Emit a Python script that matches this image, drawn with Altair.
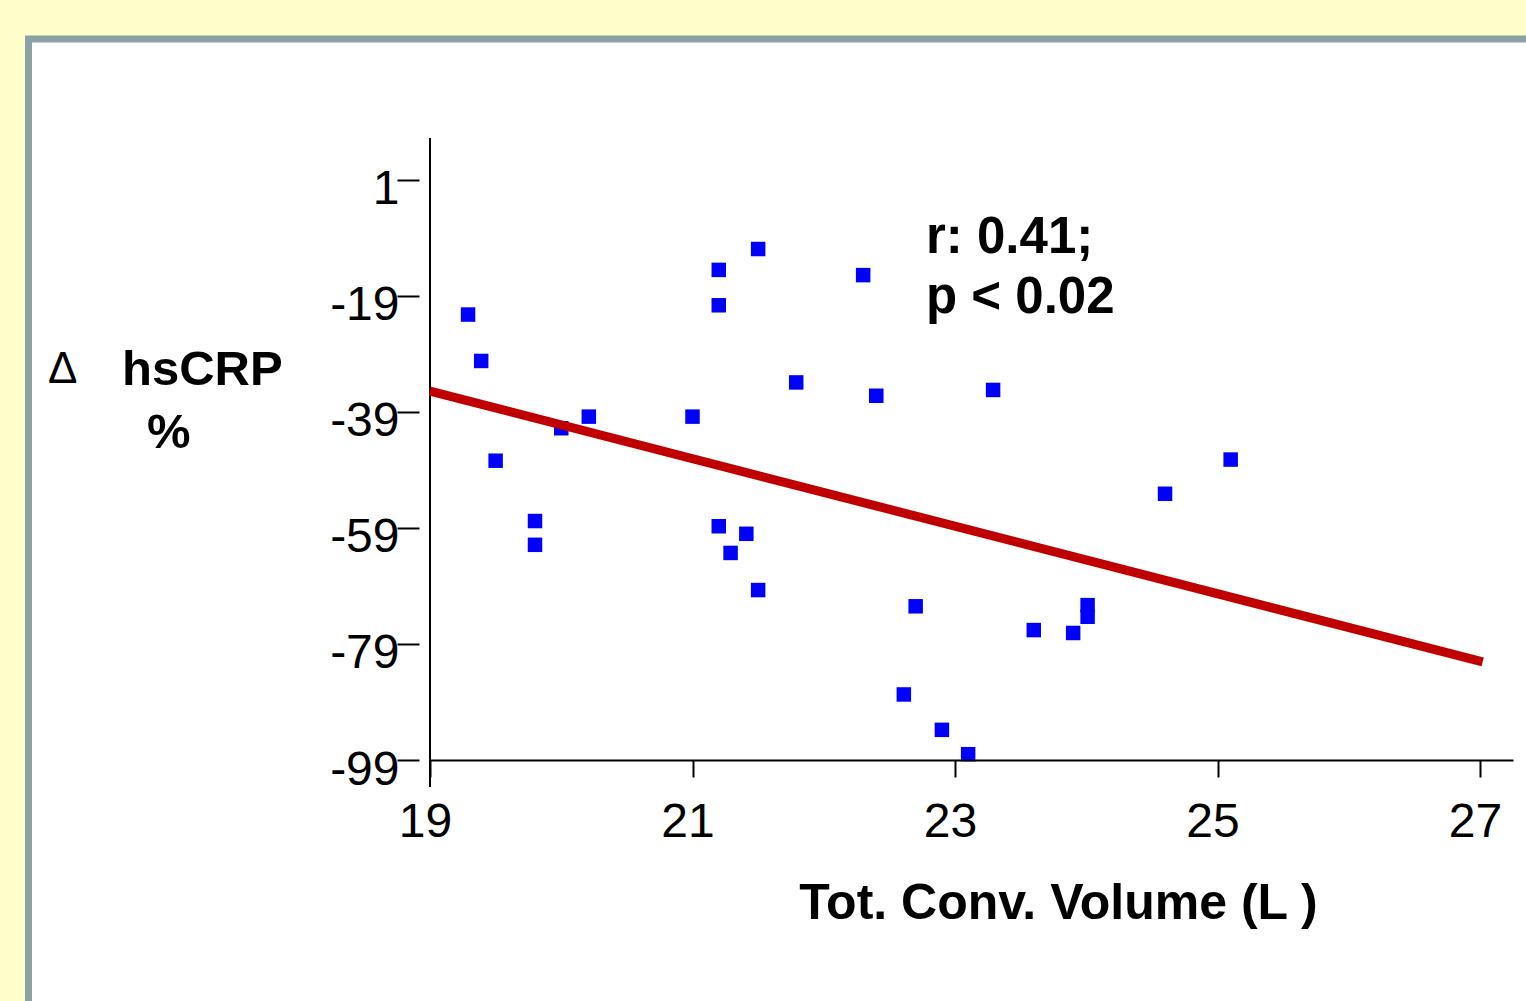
import altair as alt
import pandas as pd

# ---- data ----
x_vol = [19.29, 19.39, 19.50, 19.80, 19.80, 20.00, 20.21, 21.00, 21.20, 21.20,
         21.50, 21.79, 21.20, 21.41, 21.29, 21.50, 22.30, 22.40, 22.70, 22.61,
         22.90, 23.10, 23.29, 23.60, 23.90, 24.01, 24.01, 24.60, 25.10]
y_crp = [-22.2, -30.2, -47.4, -57.8, -61.9, -41.8, -39.8, -39.8, -14.5, -20.6,
         -10.9, -33.9, -58.7, -60.0, -63.3, -69.7, -15.4, -36.2, -72.5, -87.7,
         -93.8, -98.0, -35.2, -76.6, -77.1, -72.3, -74.3, -53.1, -47.2]

fit_x = [19.0, 27.02]
fit_y = [-35.4, -82.1]

x_ticks = [19, 21, 23, 25, 27]
y_ticks = [1, -19, -39, -59, -79, -99]

x_title = "Tot. Conv. Volume (L )"
y_title_symbol = "Δ"
y_title_main = "hsCRP"
y_title_unit = "%"
annotation = ["r: 0.41;", "p < 0.02"]

# ---- build ----
FONT = "Liberation Sans"
W, H = 1083, 622

pts = pd.DataFrame({"vol": x_vol, "crp": y_crp})
fit = pd.DataFrame({"vol": fit_x, "crp": fit_y})
one = alt.Data(values=[{"a": 1}])

xs = alt.Scale(domain=[19, 27.251], nice=False, zero=False)
ys = alt.Scale(domain=[-99, 8.24], nice=False, zero=False)

x_axis = alt.Axis(
    values=x_ticks, grid=False, domainColor="black", domainWidth=2,
    tickColor="black", tickSize=17, tickWidth=2,
    labelExpr="'' + datum.value",
    labelFont=FONT, labelFontSize=48, labelColor="black", labelPadding=21,
    labelOffset=-5, labelFlush=False, labelOverlap=False,
    title=x_title, titleFont=FONT, titleFontSize=50, titleFontWeight="bold",
    titleColor="black", titleX=628, titleY=158, titleAlign="center",
    titleBaseline="alphabetic", zindex=1,
)
y_axis = alt.Axis(
    values=y_ticks, grid=False, domain=False, offset=11,
    tickColor="black", tickSize=22, tickWidth=2,
    labelExpr="'' + datum.value",
    labelFont=FONT, labelFontSize=48, labelColor="black", labelPadding=-2,
    labelOffset=10, labelOverlap=False, labelFlush=False,
    title=None, zindex=1,
)

frame = alt.Chart(one).mark_rect(fill="white", stroke="#8CA1A5", strokeWidth=7).encode(
    x=alt.value(-401.5), y=alt.value(-99), x2=alt.value(1300), y2=alt.value(1100)
)

yline = alt.Chart(one).mark_rule(color="black", strokeWidth=2).encode(
    x=alt.value(0), y=alt.value(0), y2=alt.value(649)
)

points = alt.Chart(pts).mark_point(
    shape="square", filled=True, size=210, color="#0000FF", opacity=1, strokeWidth=0
).encode(
    x=alt.X("vol:Q", scale=xs, axis=x_axis),
    y=alt.Y("crp:Q", scale=ys, axis=y_axis),
)

line = alt.Chart(fit).mark_line(color="#C00000", strokeWidth=9, strokeCap="butt").encode(
    x=alt.X("vol:Q", scale=xs), y=alt.Y("crp:Q", scale=ys)
)

ann = alt.Chart(one).mark_text(
    text=annotation, font=FONT, fontSize=51, fontWeight="bold", align="left",
    baseline="alphabetic", lineHeight=60, color="black"
).encode(x=alt.value(496), y=alt.value(115))

t_sym = alt.Chart(one).mark_text(
    text=y_title_symbol, font=FONT, fontSize=44, align="left",
    baseline="alphabetic", color="black"
).encode(x=alt.value(-382), y=alt.value(245))

t_main = alt.Chart(one).mark_text(
    text=y_title_main, font=FONT, fontSize=49, fontWeight="bold", align="left",
    baseline="alphabetic", color="black"
).encode(x=alt.value(-308), y=alt.value(247))

t_unit = alt.Chart(one).mark_text(
    text=y_title_unit, font=FONT, fontSize=49, fontWeight="bold", align="left",
    baseline="alphabetic", color="black"
).encode(x=alt.value(-283), y=alt.value(310))

chart = alt.layer(frame, yline, points, line, ann, t_sym, t_main, t_unit).properties(
    width=W, height=H,
    autosize=alt.AutoSizeParams(type="none"),
    padding={"left": 430, "top": 138, "right": 13, "bottom": 241},
    background="#FFFFCC",
).configure_view(stroke=None)

chart.save("out.html", embed_options={"renderer": "svg", "actions": False})
